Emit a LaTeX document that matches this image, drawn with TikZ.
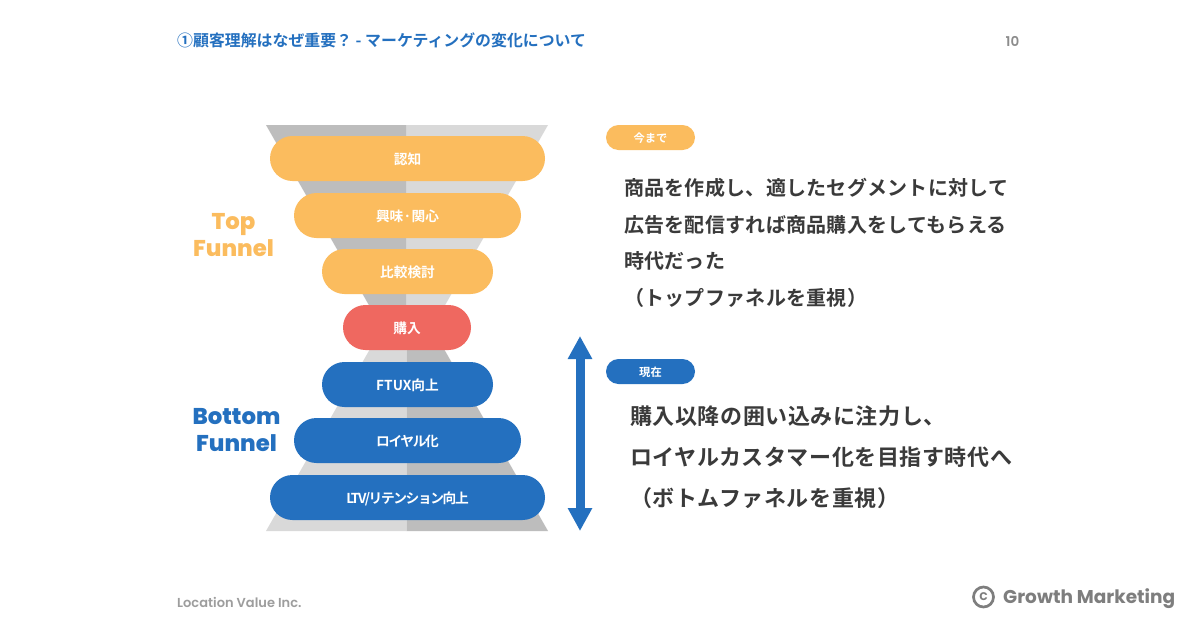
\documentclass[tikz,border=0pt]{standalone}
\usepackage{fontspec}
\usetikzlibrary{arrows.meta,shapes.misc}
\setmainfont{Noto Sans CJK JP}[BoldFont=* Bold]
\newfontfamily\jpb{Noto Sans CJK JP Bold}
\newfontfamily\jpt{Noto Sans CJK JP Bold}[LetterSpace=-10]
\newfontfamily\jpbody{Noto Sans CJK JP Bold}[LetterSpace=1.3]
\newfontfamily\jpbodyb{Noto Sans CJK JP Bold}[LetterSpace=2.6]
\newfontfamily\pop{Poppins SemiBold}[BoldFont=Poppins ExtraBold]
\newfontfamily\popb{Poppins SemiBold}
\newfontfamily\popg{Poppins Bold}
\definecolor{orangeA}{HTML}{FBBC5E}
\definecolor{blueA}{HTML}{2470BF}
\definecolor{redA}{HTML}{EF6860}
\definecolor{greyD}{HTML}{BDBDBD}
\definecolor{greyL}{HTML}{D9D9D9}
\definecolor{txt}{HTML}{3A3A3A}
\definecolor{foot}{HTML}{8C8C8C}
\tikzset{
  pill/.style={rounded rectangle,minimum height=45pt,inner sep=0pt,text=white,text height=11.4pt,text depth=0pt,font=\jpb\fontsize{13.7}{15}\selectfont},
  tag/.style={rounded rectangle,fill=#1,minimum width=89pt,minimum height=25pt,inner sep=0pt,text=white,text height=9.6pt,text depth=0pt,font=\jpb\fontsize{11.3}{13}\selectfont},
  bodytext/.style={anchor=west,text=txt,font=\jpbody\fontsize{20}{22}\selectfont,inner sep=0pt},
  bodytextb/.style={anchor=west,text=txt,font=\jpbodyb\fontsize{22}{24}\selectfont,inner sep=0pt},
  funnellabel/.style={align=center,font=\pop\bfseries\fontsize{22.8}{26}\selectfont,inner sep=0pt}
}
\begin{document}
\begin{tikzpicture}[x=1pt,y=-1pt]
\useasboundingbox (0,0) rectangle (1200,630);
\fill[white] (0,0) rectangle (1200,630);
% funnel
\fill[greyD] (266,125) -- (406.7,125) -- (406.7,328) -- (382,328) -- cycle;
\fill[greyL] (548,125) -- (406.7,125) -- (406.7,328) -- (432,328) -- cycle;
\fill[greyL] (266,531) -- (406.7,531) -- (406.7,328) -- (382,328) -- cycle;
\fill[greyD] (548,531) -- (406.7,531) -- (406.7,328) -- (432,328) -- cycle;
% pills
\node[pill,fill=orangeA,minimum width=275pt] (a) at (407.5,158.5) {認知};
\node[pill,fill=orangeA,minimum width=227pt] (b) at (407.5,215.5) {興味·関心};
\node[pill,fill=orangeA,minimum width=171pt] (c) at (407.5,271.5) {比較検討};
\node[pill,fill=redA,minimum width=128pt] (d) at (407,327.5) {購入};
\node[pill,fill=blueA,minimum width=171pt] (e) at (407.5,384.5) {FTUX向上};
\node[pill,fill=blueA,minimum width=227pt] (f) at (407.5,440.5) {\jpt ロイヤル化};
\node[pill,fill=blueA,minimum width=275pt] (g) at (407.5,497.5) {\jpt LTV/リテンション向上};
% labels
\node[funnellabel,text=orangeA] (top) at (233.5,235) {Top\\[1pt]Funnel};
\node[funnellabel,text=blueA] (bot) at (236.5,430) {Bottom\\[1pt]Funnel};
% arrow
\coordinate (arrU) at (580,336);
\coordinate (arrD) at (580,531);
\draw[blueA,line width=9pt,{Triangle[width=23pt,length=23pt]}-{Triangle[width=23pt,length=23pt]}] (arrU) -- (arrD);
% tags
\node[tag=orangeA] (t1) at (650.5,137.5) {今まで};
\node[tag=blueA] (t2) at (650.5,371.5) {現在};
% body
\node[bodytext] (l1) at (624,187.5) {商品を作成し、適したセグメントに対して};
\node[bodytext] (l2) at (624,224.5) {広告を配信すれば商品購入をしてもらえる};
\node[bodytext] (l3) at (624,260.5) {時代だった};
\node[bodytext] (l4) at (624,297.5) {（トップファネルを重視）};
\node[bodytextb] (m1) at (630,416.5) {購入以降の囲い込みに注力し、};
\node[bodytextb] (m2) at (630,457.5) {ロイヤルカスタマー化を目指す時代へ};
\node[bodytextb] (m3) at (630,498.5) {（ボトムファネルを重視）};
% header/footer
\node[anchor=west,inner sep=0pt,text=blueA,font=\jpb\fontsize{15.9}{18}\selectfont] (title) at (177,40) {①顧客理解はなぜ重要？ - マーケティングの変化について};
\node[inner sep=0pt,text=foot,font=\popb\fontsize{13.5}{15}\selectfont] (pg) at (1012.5,41) {10};
\node[anchor=west,inner sep=0pt,text=foot!85!white,font=\pop\fontsize{13}{16}\selectfont] (loc) at (177,602) {Location Value Inc.};
\node[anchor=west,inner sep=0pt,text=foot!90!black,font=\popg\fontsize{18.5}{20}\selectfont] (gm) at (1003,598.5) {Growth Marketing};
\node[circle,draw=foot!90!black,line width=2.7pt,minimum size=20pt,inner sep=0pt,text=foot!90!black,font=\popb\fontsize{14}{14}\selectfont] (cc) at (983.5,597) {c};
\end{tikzpicture}
\end{document}
